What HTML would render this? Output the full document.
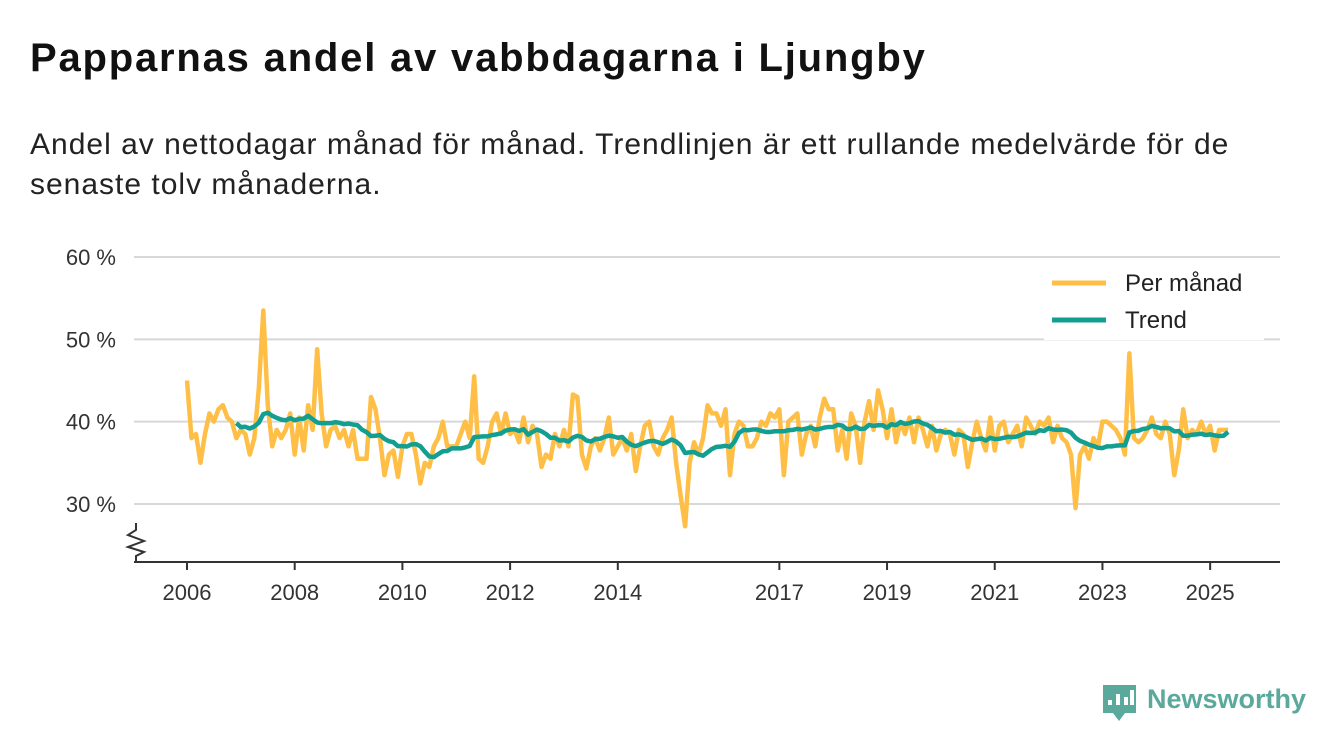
<!DOCTYPE html>
<html><head><meta charset="utf-8">
<style>
body{margin:0;width:1340px;height:753px;background:#fff;font-family:"Liberation Sans","DejaVu Sans",sans-serif;overflow:hidden;position:relative;color:#111}
#title{position:absolute;left:30px;top:36px;font-size:40px;font-weight:bold;margin:0;letter-spacing:1.8px}
#sub{position:absolute;left:30px;top:125px;font-size:30px;line-height:40px;width:1300px;color:#222;letter-spacing:1px}
svg{position:absolute;left:0;top:0}
</style></head><body>
<h1 id="title">Papparnas andel av vabbdagarna i Ljungby</h1>
<div id="sub">Andel av nettodagar månad för månad. Trendlinjen är ett rullande medelvärde för de<br>senaste tolv månaderna.</div>
<svg id="chart" width="1340" height="753"></svg>
<script>
const startYear = 2006;
const monthly = [
45,38,38.5,35,38.5,41,40,41.5,42,40.5,40,38,
39,38.5,36,38,44,53.5,42,37,39,38,39,41,
36,40.5,36.5,42,39,48.8,41,37,39,39.5,38,39,
37,39,35.5,35.5,35.5,43,41.5,38,33.5,36,36.5,33.3,
37,38.5,38.5,36,32.5,35,34.5,37,38,40,37,37,
37,38.5,40,38,45.5,35.5,35,37,40,41,38.5,41,
38.5,39,37.5,40.5,37.5,39.5,38.5,34.5,36,35.5,38.5,37,
39,37,43.3,43,36,34.3,37,38,36.5,38,40.5,36,
37,38,36.5,38.5,34,37,39.5,40,37,36,38,39,
40.5,35,31,27.3,35,37.5,36,38,42,41,41,39.5,
41.5,33.5,38.5,40,39.5,37,37,38,40,39.5,41,40.5,
41.5,33.5,40,40.5,41,36,38.5,39.5,37,40.5,42.8,41.5,
41.5,36.5,39,35.5,41,39.5,35,40,42.5,39,43.8,41.5,
38,41.5,37.5,40,38.5,40.5,37.5,40.5,39,37,39.5,36.5,
38.5,39,38.5,36,39,38.5,34.5,37.5,40,38,36.5,40.5,
36.5,39.5,40,37.5,38.5,39.5,37,40.5,39.5,38.5,40,39.5,
40.5,37.5,39.5,38,37.5,36,29.5,36,37,35.5,38,37,
40,40,39.5,39,38,36,48.3,38,37.5,38,39,40.5,
38.5,38,40,38.5,33.5,36.5,41.5,38,39,38.5,40,38.5,
39.5,36.5,39,39,39];
const yTicks = [30,40,50,60];
const xTickYears = [2006,2008,2010,2012,2014,2017,2019,2021,2023,2025];

const NS="http://www.w3.org/2000/svg";
const svg=document.getElementById('chart');
const X=m=>187+(m/12)*53.85;
const Y=v=>257+(60-v)*8.233;
function el(t,a){const e=document.createElementNS(NS,t);for(const k in a)e.setAttribute(k,a[k]);svg.appendChild(e);return e;}

yTicks.forEach(v=>{
  const g=el('line',{x1:134,x2:1280,y1:Y(v),y2:Y(v),stroke:'#d8d8d8','stroke-width':2});
  
  
  const t=el('text',{x:116,y:Y(v)+8,'text-anchor':'end','font-size':22,fill:'#333'});
  t.textContent=v+' %';
  
  
});
const ax=el('line',{x1:134,x2:1280,y1:562,y2:562,stroke:'#333','stroke-width':2});


const zz=el('path',{d:'M136 523 L136 530 L128 535 L144 541 L128 547 L144 552 L136 556 L136 562',fill:'none',stroke:'#333','stroke-width':2});


xTickYears.forEach(yr=>{
  const x=X((yr-startYear)*12);
  const tk=el('line',{x1:x,x2:x,y1:562,y2:570,stroke:'#333','stroke-width':2});
  
  
  const t=el('text',{x:x,y:600,'text-anchor':'middle','font-size':22,fill:'#333'});
  t.textContent=yr;
  
  
});
const mp=el('polyline',{points:monthly.map((v,i)=>X(i)+','+Y(v)).join(' '),fill:'none',stroke:'#ffbf47','stroke-width':4.5,'stroke-linejoin':'round'});


const trend=[];
for(let i=11;i<monthly.length;i++){let s=0;for(let j=i-11;j<=i;j++)s+=monthly[j];trend.push([i,s/12]);}
const tp=el('polyline',{points:trend.map(p=>X(p[0])+','+Y(p[1])).join(' '),fill:'none',stroke:'#129e90','stroke-width':4.5,'stroke-linejoin':'round'});


const lb=el('rect',{x:1044,y:262,width:220,height:78,fill:'#fff'});


[['Per månad','#ffbf47',283],['Trend','#129e90',320]].forEach(([n,c,y])=>{
  const l=el('line',{x1:1052,x2:1106,y1:y,y2:y,stroke:c,'stroke-width':5});
  
  
  const t=el('text',{x:1125,y:y+8,'font-size':24,fill:'#222'});
  t.textContent=n;
  
  
});
const lg=el('path',{d:'M1103 685 H1136 V713 H1125 L1119 721 L1113 713 H1103 Z',fill:'#5aa99c'});


[[1108,700,5],[1116,694,11],[1124,697,8],[1130,690,15]].forEach(b=>{
  const r=el('rect',{x:b[0],y:b[1],width:4,height:b[2],fill:'#fff'});
  
  
});
const lt=el('text',{x:1147,y:708,'font-size':27,'font-weight':'bold',fill:'#5aa99c'});
lt.textContent='Newsworthy';


</script>
</body></html>
